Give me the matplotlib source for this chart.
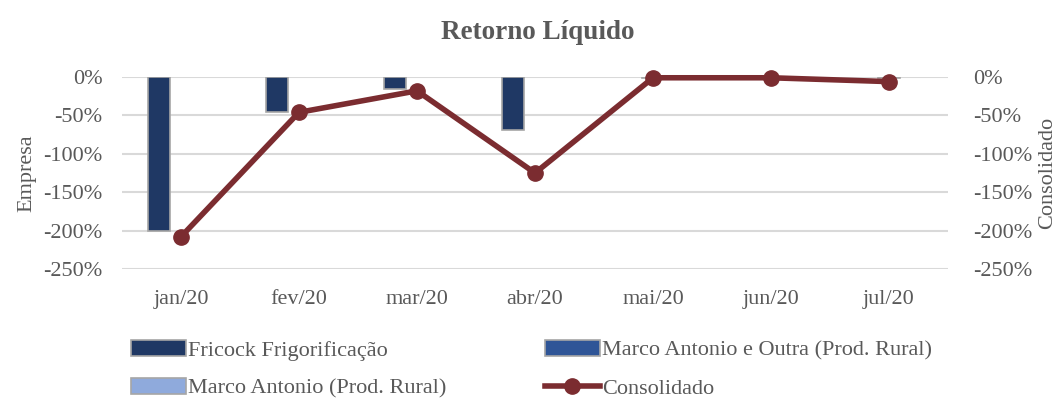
"""Retorno Liquido: grouped bars per company plus consolidated line."""

import matplotlib
matplotlib.use("Agg")
import matplotlib.pyplot as plt
import numpy as np
from matplotlib.ticker import FuncFormatter

NA = np.nan
months = ["jan/20", "fev/20", "mar/20", "abr/20", "mai/20", "jun/20", "jul/20"]
fricock = [-200, -45, -16, -69, NA, NA, NA]
marco_outra = [NA, NA, NA, NA, -1, -1, -1]
marco = [NA, NA, NA, NA, NA, NA, NA]
consolidado = [-208, -46, -18, -125, -1, -1, -6]
yticks = [0, -50, -100, -150, -200, -250]

GREY = "#595959"
plt.rcParams["font.family"] = ["Liberation Serif", "DejaVu Serif"]


def pct(v, _):
    return f"{v:.0f}%"


def main():
    fig = plt.figure(figsize=(10.59, 4.0), dpi=100)
    ax = fig.add_axes([0.1152, 0.3275, 0.78, 0.48])
    ax2 = ax.twinx()

    x = np.arange(len(months))
    w = 0.186
    series = [
        (fricock, "#1f3864", "Fricock Frigorificação"),
        (marco_outra, "#2f5597", "Marco Antonio e Outra (Prod. Rural)"),
        (marco, "#8faadc", "Marco Antonio (Prod. Rural)"),
    ]
    bars = []
    for i, (vals, col, lab) in enumerate(series):
        b = ax.bar(x + (i - 1) * w, vals, w, color=col, edgecolor="#a6a6a6",
                   linewidth=1.2, label=lab, zorder=3)
        bars.append(b)

    line, = ax2.plot(x, consolidado, color="#7b2c30", lw=4, marker="o",
                     markersize=11, label="Consolidado", zorder=4, clip_on=False)

    for a in (ax, ax2):
        a.set_ylim(-250, 0)
        a.set_yticks(yticks)
        a.yaxis.set_major_formatter(FuncFormatter(pct))
        for s in a.spines.values():
            s.set_visible(False)
        a.tick_params(length=0, labelsize=16, colors=GREY)
    ax.set_xlim(-0.5, len(months) - 0.5)
    ax.set_xticks(x)
    ax.set_xticklabels(months)
    ax.tick_params(axis="x", pad=15)
    ax.tick_params(axis="y", pad=14)
    ax2.tick_params(axis="y", pad=18)
    ax.grid(axis="y", color="#d9d9d9", lw=1.5, zorder=0)
    ax.set_axisbelow(True)

    ax.set_ylabel("Empresa", fontsize=16, color=GREY, labelpad=5)
    ax2.set_ylabel("Consolidado", fontsize=16, color=GREY, labelpad=4)
    fig.suptitle("Retorno Líquido", x=0.508, y=0.95, fontsize=19.5,
                 fontweight="bold", color=GREY)

    handles = [bars[0], bars[2], bars[1], line]
    labels = [h.get_label() for h in handles]
    fig.legend(handles, labels, ncol=2, loc="upper left",
               bbox_to_anchor=(0.115, 0.172), frameon=False, fontsize=16,
               labelcolor=GREY, handlelength=2.5, handletextpad=0.1,
               columnspacing=4.4, labelspacing=0.8, borderaxespad=0)

    fig.savefig("out.png", dpi=100)


if __name__ == "__main__":
    main()
